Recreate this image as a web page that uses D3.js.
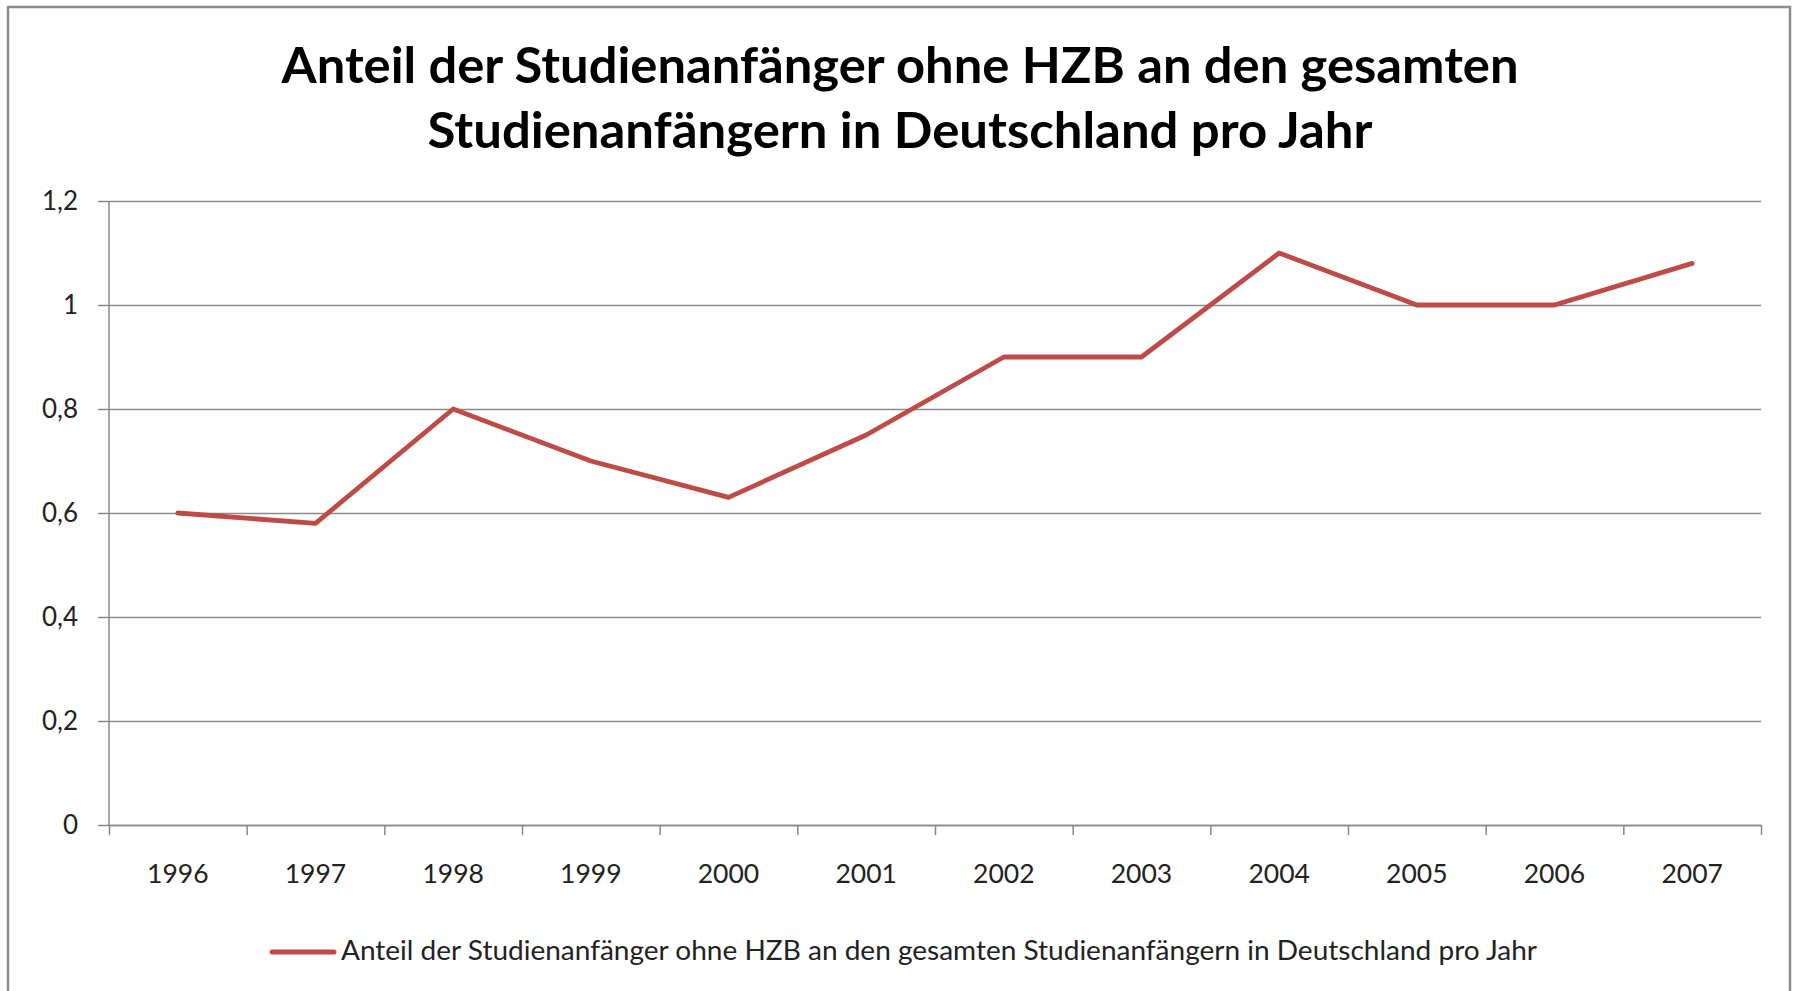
<!DOCTYPE html>
<html>
<head>
<meta charset="utf-8">
<script src="https://cdn.jsdelivr.net/npm/d3@7"></script>
<style>
  body { margin: 0; background: #fff; }
  svg { display: block; font-family: Lato, "Open Sans", sans-serif; }
  .axis path, .axis line { stroke: #888; stroke-width: 1.5; }
  .grid line { stroke: #8a8a8a; stroke-width: 1.5; }
  .grid path { display: none; }
</style>
</head>
<body>
<svg id="chart" width="1796" height="991"></svg>
<script>
// data
var years = ["1996", "1997", "1998", "1999", "2000", "2001", "2002", "2003", "2004", "2005", "2006", "2007"];
var shares = [0.6, 0.58, 0.8, 0.7, 0.63, 0.75, 0.9, 0.9, 1.1, 1.0, 1.0, 1.08];
var yTicks = [0, 0.2, 0.4, 0.6, 0.8, 1, 1.2];
var titleLines = ["Anteil der Studienanfänger ohne HZB an den gesamten", "Studienanfängern in Deutschland pro Jahr"];
var seriesName = "Anteil der Studienanfänger ohne HZB an den gesamten Studienanfängern in Deutschland pro Jahr";

var lineColor = "#be4b48";
var plot = { left: 109, right: 1761, top: 201, bottom: 825 };

var svg = d3.select("#chart");

// outer frame
svg.append("rect")
  .attr("x", 8).attr("y", 7)
  .attr("width", 1782).attr("height", 1000)
  .attr("fill", "none")
  .attr("stroke", "#8c8c8c")
  .attr("stroke-width", 2.5);

// title, two lines
var titleWidths = [1237, 945];
svg.selectAll(".title")
  .data(titleLines)
  .enter()
  .append("text")
  .attr("class", "title")
  .attr("x", 900)
  .attr("y", (d, i) => 83 + i * 65)
  .attr("text-anchor", "middle")
  .attr("font-weight", "bold")
  .attr("font-size", 49)
  .attr("textLength", (d, i) => titleWidths[i])
  .attr("lengthAdjust", "spacingAndGlyphs")
  .text(d => d);

var x = d3.scaleBand()
  .domain(years)
  .range([plot.left, plot.right])
  .padding(0);

var xEdges = d3.scaleLinear()
  .domain([0, years.length])
  .range([plot.left, plot.right]);

var y = d3.scaleLinear()
  .domain([0, 1.2])
  .range([plot.bottom, plot.top]);

var de = d3.formatLocale({ decimal: ",", thousands: ".", grouping: [3], currency: ["", " €"] });
var fmt = de.format(".1~f");

// horizontal gridlines
svg.append("g")
  .attr("class", "grid")
  .attr("transform", `translate(${plot.left}, 0)`)
  .call(d3.axisRight(y).tickValues(yTicks).tickSize(plot.right - plot.left).tickFormat(""));

// y axis
var yAxis = svg.append("g")
  .attr("class", "axis")
  .attr("transform", `translate(${plot.left}, 0)`)
  .call(d3.axisLeft(y).tickValues(yTicks).tickSize(11).tickPadding(20).tickSizeOuter(0).tickFormat(fmt));
yAxis.select(".domain").attr("d", `M0,${plot.top}V${plot.bottom}`);
yAxis.selectAll("text")
  .attr("font-size", 26)
  .attr("fill", "#222")
  .attr("font-family", "Lato, sans-serif");

// x axis: tick marks sit between the categories
var xAxis = svg.append("g")
  .attr("class", "axis")
  .attr("transform", `translate(0, ${plot.bottom})`)
  .call(d3.axisBottom(xEdges).tickValues(d3.range(years.length + 1)).tickSize(10).tickSizeOuter(0).tickFormat(""));

svg.selectAll(".xlabel")
  .data(years)
  .enter()
  .append("text")
  .attr("class", "xlabel")
  .attr("x", d => x(d) + x.bandwidth() / 2)
  .attr("y", 883)
  .attr("text-anchor", "middle")
  .attr("font-size", 26.5)
  .attr("fill", "#222")
  .text(d => d);

// the series
var line = d3.line()
  .x((d, i) => x(years[i]) + x.bandwidth() / 2)
  .y(d => y(d));

svg.append("path")
  .datum(shares)
  .attr("d", line)
  .attr("fill", "none")
  .attr("stroke", lineColor)
  .attr("stroke-width", 4.8)
  .attr("stroke-linejoin", "round")
  .attr("stroke-linecap", "round");

// legend
var legend = svg.append("g").attr("transform", "translate(272, 952)");
legend.append("line")
  .attr("x1", 0).attr("x2", 62)
  .attr("y1", 0).attr("y2", 0)
  .attr("stroke", lineColor)
  .attr("stroke-width", 5)
  .attr("stroke-linecap", "round");
legend.append("text")
  .attr("x", 69)
  .attr("y", 8)
  .attr("font-size", 26)
  .attr("fill", "#222")
  .attr("textLength", 1196)
  .attr("lengthAdjust", "spacingAndGlyphs")
  .text(seriesName);
</script>
</body>
</html>
